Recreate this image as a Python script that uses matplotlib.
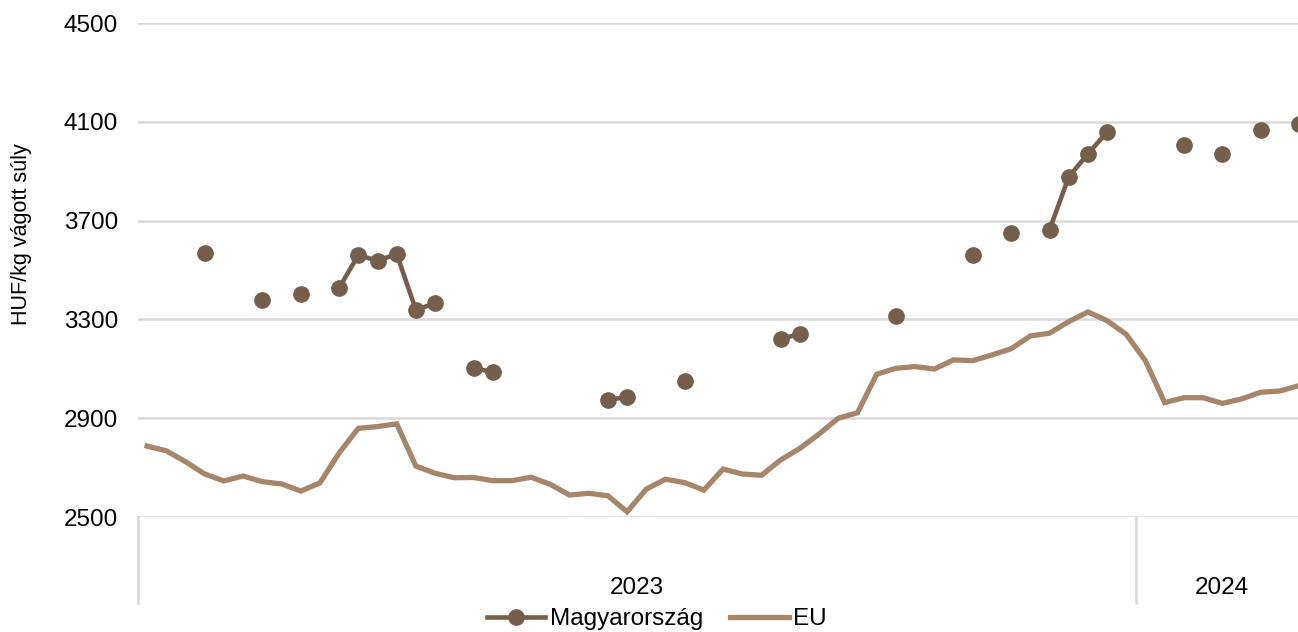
import numpy as np
import matplotlib.pyplot as plt
import matplotlib.transforms as mtransforms

plt.rcParams['font.family'] = ['Liberation Sans', 'DejaVu Sans']

# weekly data, 2023 week 1 .. 2024 week 9
years = ['2023', '2024']
weeks_per_year = [52, 9]

nan = np.nan
hu = [nan, nan, nan, 3569, nan, nan, 3379, nan, 3403, nan,
      3427, 3561, 3537, 3565, 3338, 3366, nan, 3103, 3087, nan,
      nan, nan, nan, nan, 2974, 2986, nan, nan, 3051, nan,
      nan, nan, nan, 3221, 3241, nan, nan, nan, nan, 3314,
      nan, nan, nan, 3561, nan, 3650, nan, 3662, 3877, 3970,
      4059, nan, nan, nan, 4006, nan, 3970, nan, 4067, nan,
      4091]
eu = [2787, 2768, 2724, 2674, 2646, 2666, 2643, 2634, 2605, 2638,
      2759, 2859, 2866, 2877, 2706, 2677, 2659, 2660, 2647, 2647,
      2661, 2632, 2589, 2596, 2586, 2521, 2613, 2653, 2639, 2609,
      2694, 2674, 2669, 2731, 2778, 2836, 2900, 2922, 3078, 3102,
      3109, 3099, 3136, 3133, 3156, 3181, 3233, 3244, 3291, 3330,
      3295, 3239, 3132, 2963, 2983, 2983, 2960, 2978, 3005, 3010,
      3032]

hu_color = '#735f4c'
eu_color = '#a6866b'
grid_color = '#d9d9d9'

W, H = 1298, 632
fig = plt.figure(figsize=(W / 100, H / 100), dpi=100)
n = len(eu)
cat_w = 19.2
left_px = 137.5
ax = fig.add_axes([left_px / W, (H - 517) / H, n * cat_w / W, 494 / H])

x = np.arange(n)
ax.plot(x, eu, color=eu_color, lw=3.8, solid_joinstyle='miter', label='EU', zorder=3)
ax.plot(x, hu, color=hu_color, lw=3.3, marker='o', ms=11, label='Magyarország', zorder=4)

ax.set_xlim(-0.5, n - 0.5)
ax.set_ylim(2500, 4500)
ax.set_yticks(np.arange(2500, 4501, 400))
ax.yaxis.grid(True, color=grid_color, lw=1.8)
ax.set_axisbelow(True)
ax.set_xticks([])
for s in ax.spines.values():
    s.set_visible(False)
ax.tick_params(axis='y', length=0, pad=14, labelsize=17.5)

# category (year) axis below the plot
trans = mtransforms.blended_transform_factory(ax.transData, ax.transAxes)
bounds = np.concatenate([[0], np.cumsum(weeks_per_year)]) - 0.5
for b in bounds[:-1]:
    ax.plot([b, b], [0, -0.174], transform=trans, color=grid_color, lw=1.8, clip_on=False)
for i, yr in enumerate(years):
    ax.text((bounds[i] + bounds[i + 1]) / 2, -0.144, yr, transform=trans,
            ha='center', va='center', fontsize=17.5)

fig.text(22 / W, 1 - 234 / H, 'HUF/kg vágott súly', rotation=90,
         ha='center', va='center', fontsize=15.5)

h, l = ax.get_legend_handles_labels()
fig.legend(h[::-1], l[::-1], loc='center', bbox_to_anchor=(657 / W, 1 - 619 / H),
           ncol=2, frameon=False, fontsize=17.5, handlelength=2.4,
           handletextpad=0.2, columnspacing=1.1, borderpad=0)

fig.savefig('out.png', dpi=100)
